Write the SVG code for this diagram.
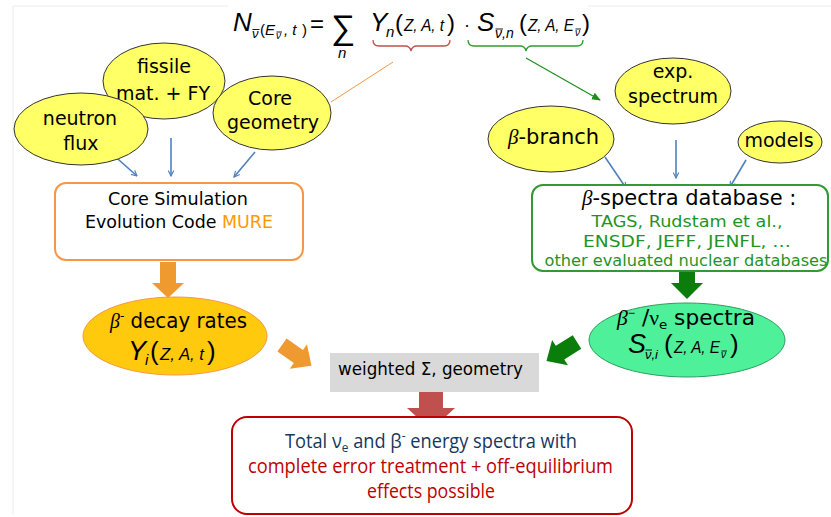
<svg xmlns="http://www.w3.org/2000/svg" width="831" height="517" viewBox="0 0 831 517">
<defs>
<style>
.c{font-family:"DejaVu Sans",sans-serif;fill:#000}
.m{font-family:"Liberation Sans",Arial,sans-serif;font-style:italic;fill:#000}
.u{font-family:"Liberation Sans",Arial,sans-serif;fill:#000}
.g{font-family:"Liberation Serif",serif;font-style:italic}
.ob{stroke:#000;stroke-width:0.9;fill:none}
.yel{fill:#ffff66;stroke:#333;stroke-width:1}
.blue{stroke:#4f81bd;stroke-width:1.6;fill:none;marker-end:url(#ab)}
.db{font-family:"DejaVu Sans",sans-serif;fill:#1f951f;font-size:15.5px}
.cal{font-family:"Open Sans",sans-serif;font-size:20px}
</style>
<marker id="ab" viewBox="0 0 10 10" refX="9" refY="5" markerWidth="7" markerHeight="7" orient="auto" markerUnits="userSpaceOnUse">
<path d="M1,1 L9,5 L1,9" fill="none" stroke="#4f81bd" stroke-width="1.6"/>
</marker>
<marker id="ag" viewBox="0 0 10 10" refX="9" refY="5" markerWidth="9" markerHeight="9" orient="auto" markerUnits="userSpaceOnUse">
<path d="M0,1 L10,5 L0,9 z" fill="#1a8f1a"/>
</marker>
</defs>
<rect width="831" height="517" fill="#fff"/>
<g id="frame" stroke="#ececec" stroke-width="1" fill="none">
<path d="M13,515 V6 H228"/>
<path d="M588,6 H831"/>
</g>

<g id="formula">
<text class="m" x="233" y="31" font-size="26">N</text>
<text class="m" x="252" y="38" font-size="13">ν</text>
<path class="ob" d="M252.5,29.5 H259.5"/>
<text class="u" x="260" y="35" font-size="15">(</text>
<text class="m" x="265" y="35" font-size="15">E</text>
<text class="m" x="276" y="39" font-size="10">ν</text>
<path class="ob" d="M276.5,32 H282"/>
<text class="m" x="284" y="35" font-size="15">, t</text>
<text class="u" x="302" y="35" font-size="15">)</text>
<text class="u" x="310" y="32" font-size="24">=</text>
<text class="u" x="331" y="39" font-size="34">∑</text>
<text class="m" x="338" y="58" font-size="15">n</text>
<text class="m" x="370" y="31" font-size="26">Y</text>
<text class="m" x="386" y="37" font-size="15">n</text>
<text class="u" x="395" y="31" font-size="24">(</text>
<text class="m" x="404" y="31" font-size="17" textLength="40" lengthAdjust="spacingAndGlyphs">Z, A, t</text>
<text class="u" x="447" y="31" font-size="24">)</text>
<text class="u" x="464" y="31" font-size="18">·</text>
<text class="m" x="477" y="31" font-size="26">S</text>
<text class="m" x="495" y="38" font-size="14">ν,n</text>
<path class="ob" d="M495.5,29 H503"/>
<text class="u" x="519" y="31" font-size="24">(</text>
<text class="m" x="528" y="31" font-size="17" textLength="46" lengthAdjust="spacingAndGlyphs">Z, A, E</text>
<text class="m" x="575" y="36" font-size="10">ν</text>
<path class="ob" d="M575.5,29 H581"/>
<text class="u" x="582" y="31" font-size="24">)</text>
<path d="M373,40 Q373,46 379,46 H405 Q410,46 411,51 Q412,46 417,46 H444 Q450,46 450,40" fill="none" stroke="#c0504d" stroke-width="1.3"/>
<path d="M468,40 Q468,46 474,46 H520 Q525,46 526,51 Q527,46 532,46 H577 Q583,46 583,40" fill="none" stroke="#2e9e2e" stroke-width="1.3"/>
</g>

<g id="connectors">
<line x1="393" y1="62" x2="331" y2="102" stroke="#f79646" stroke-width="1"/>
<line x1="526" y1="58" x2="600" y2="100" stroke="#1a8f1a" stroke-width="1.2" marker-end="url(#ag)"/>
<line class="blue" x1="110" y1="152" x2="137" y2="176"/>
<line class="blue" x1="171" y1="138" x2="171" y2="176"/>
<line class="blue" x1="255" y1="152" x2="234" y2="177"/>
<line class="blue" x1="605" y1="157" x2="626" y2="188"/>
<line class="blue" x1="676" y1="140" x2="676" y2="178"/>
<line class="blue" x1="746" y1="160" x2="730" y2="187"/>
<polygon points="160,262 176,262 176,283 184,283 168,298 152,283 160,283" fill="#ef9a2f"/>
<polygon points="0,-8 20,-8 20,-15 36,0 20,15 20,8 0,8" fill="#ef9a2f" transform="translate(282,345) rotate(35)"/>
<polygon points="679,267 695,267 695,283 703,283 687,299 671,283 679,283" fill="#0b7d0b"/>
<polygon points="0,-8 20,-8 20,-15 36,0 20,15 20,8 0,8" fill="#0b7d0b" transform="translate(577,342) rotate(148)"/>
<polygon points="419,392 443,392 443,408 455,408 431,430 407,408 419,408" fill="#c0504d"/>
</g>

<g id="fissile">
<ellipse class="yel" cx="164" cy="81" rx="61" ry="38"/>
<text class="c" font-size="19" text-anchor="middle" x="164" y="73">fissile</text>
<text class="c" font-size="19" text-anchor="middle" x="163" y="100">mat. + FY</text>
</g>
<g id="neutron">
<ellipse class="yel" cx="81" cy="129" rx="67" ry="36"/>
<text class="c" font-size="19" text-anchor="middle" x="80" y="125">neutron</text>
<text class="c" font-size="19" text-anchor="middle" x="81" y="150">flux</text>
</g>
<g id="geometry">
<ellipse class="yel" cx="272" cy="113" rx="59" ry="37"/>
<text class="c" font-size="19" text-anchor="middle" x="270" y="105">Core</text>
<text class="c" font-size="19" text-anchor="middle" x="273" y="129">geometry</text>
</g>

<g id="mure">
<rect x="55" y="183" width="248" height="77" rx="11" fill="#fff" stroke="#f79646" stroke-width="2"/>
<text class="c" font-size="17" text-anchor="middle" x="178" y="205" textLength="140" lengthAdjust="spacingAndGlyphs">Core Simulation</text>
<text class="c" font-size="17" x="85" y="228" textLength="188" lengthAdjust="spacingAndGlyphs">Evolution Code <tspan fill="#ff9900">MURE</tspan></text>
</g>

<g id="decay">
<ellipse cx="175" cy="336" rx="92" ry="39" fill="#ffc90e" stroke="#f79646" stroke-width="1"/>
<text font-size="21" x="110" y="328" textLength="137" lengthAdjust="spacingAndGlyphs"><tspan class="g">β</tspan><tspan class="c" font-size="13" dy="-8">-</tspan><tspan class="c" dy="8"> decay rates</tspan></text>
<text class="m" x="128" y="360" font-size="27">Y</text>
<text class="m" x="145" y="365" font-size="15">i</text>
<text class="u" x="150" y="360" font-size="26">(</text>
<text class="m" x="160" y="360" font-size="17" textLength="44" lengthAdjust="spacingAndGlyphs">Z, A, t</text>
<text class="u" x="207" y="360" font-size="26">)</text>
</g>

<g id="expspec">
<ellipse class="yel" cx="673" cy="91" rx="58" ry="33"/>
<text class="c" font-size="19" text-anchor="middle" x="673" y="78">exp.</text>
<text class="c" font-size="19" text-anchor="middle" x="673" y="103">spectrum</text>
</g>
<g id="branch">
<ellipse class="yel" cx="551" cy="139" rx="63" ry="33"/>
<text x="508" y="144" font-size="21"><tspan class="g">β</tspan><tspan class="c">-branch</tspan></text>
</g>
<g id="models">
<ellipse class="yel" cx="780" cy="142" rx="42" ry="21"/>
<text class="c" font-size="19" text-anchor="middle" x="779" y="147">models</text>
</g>

<g id="database">
<rect x="532" y="185" width="296" height="86" rx="11" fill="#fff" stroke="#339933" stroke-width="2"/>
<text x="582" y="205" font-size="21"><tspan class="g">β</tspan><tspan class="c">-spectra database :</tspan></text>
<text class="db" text-anchor="middle" x="687" y="227" textLength="191" lengthAdjust="spacingAndGlyphs">TAGS, Rudstam et al.,</text>
<text class="db" text-anchor="middle" x="687" y="247" textLength="208" lengthAdjust="spacingAndGlyphs">ENSDF, JEFF, JENFL, …</text>
<text class="db" text-anchor="middle" x="686" y="266" textLength="283" lengthAdjust="spacingAndGlyphs">other evaluated nuclear databases</text>
</g>

<g id="spectra">
<ellipse cx="687" cy="340" rx="98" ry="37" fill="#4ef09a" stroke="#2e9e5e" stroke-width="1"/>
<text x="617" y="325" font-size="21" textLength="138" lengthAdjust="spacingAndGlyphs"><tspan class="g">β</tspan><tspan class="m" font-size="12" dy="-8">−</tspan><tspan class="c" dy="8"> /</tspan><tspan font-family="Liberation Serif,serif">ν</tspan><tspan class="c" font-size="13" dy="4">e</tspan><tspan class="c" dy="-4"> spectra</tspan></text>
<text class="m" x="628" y="353" font-size="27">S</text>
<text class="m" x="645" y="359" font-size="13">ν,i</text>
<path class="ob" d="M645.5,350 H652"/>
<text class="u" x="664" y="353" font-size="26">(</text>
<text class="m" x="674" y="353" font-size="17" textLength="46" lengthAdjust="spacingAndGlyphs">Z, A, E</text>
<text class="m" x="721" y="358" font-size="10">ν</text>
<path class="ob" d="M721.5,351 H727"/>
<text class="u" x="730" y="353" font-size="26">)</text>
</g>

<g id="weighted">
<rect x="330" y="353" width="209" height="39" fill="#d9d9d9"/>
<text class="c" font-size="18" x="338" y="375" textLength="185" lengthAdjust="spacingAndGlyphs">weighted Σ, geometry</text>
</g>

<g id="total">
<rect x="232" y="417" width="400" height="97" rx="15" fill="#fff" stroke="#c00000" stroke-width="2"/>
<text class="cal" x="285" y="448" fill="#17375e" textLength="292" lengthAdjust="spacingAndGlyphs">Total ν<tspan font-size="13" dy="4">e</tspan><tspan dy="-4"> and β</tspan><tspan font-size="13" dy="-8">-</tspan><tspan dy="8"> energy spectra with</tspan></text>
<text class="cal" x="248" y="473" fill="#c00000" textLength="365" lengthAdjust="spacingAndGlyphs">complete error treatment + off-equilibrium</text>
<text class="cal" x="367" y="498" fill="#c00000" textLength="128" lengthAdjust="spacingAndGlyphs">effects possible</text>
</g>
</svg>
